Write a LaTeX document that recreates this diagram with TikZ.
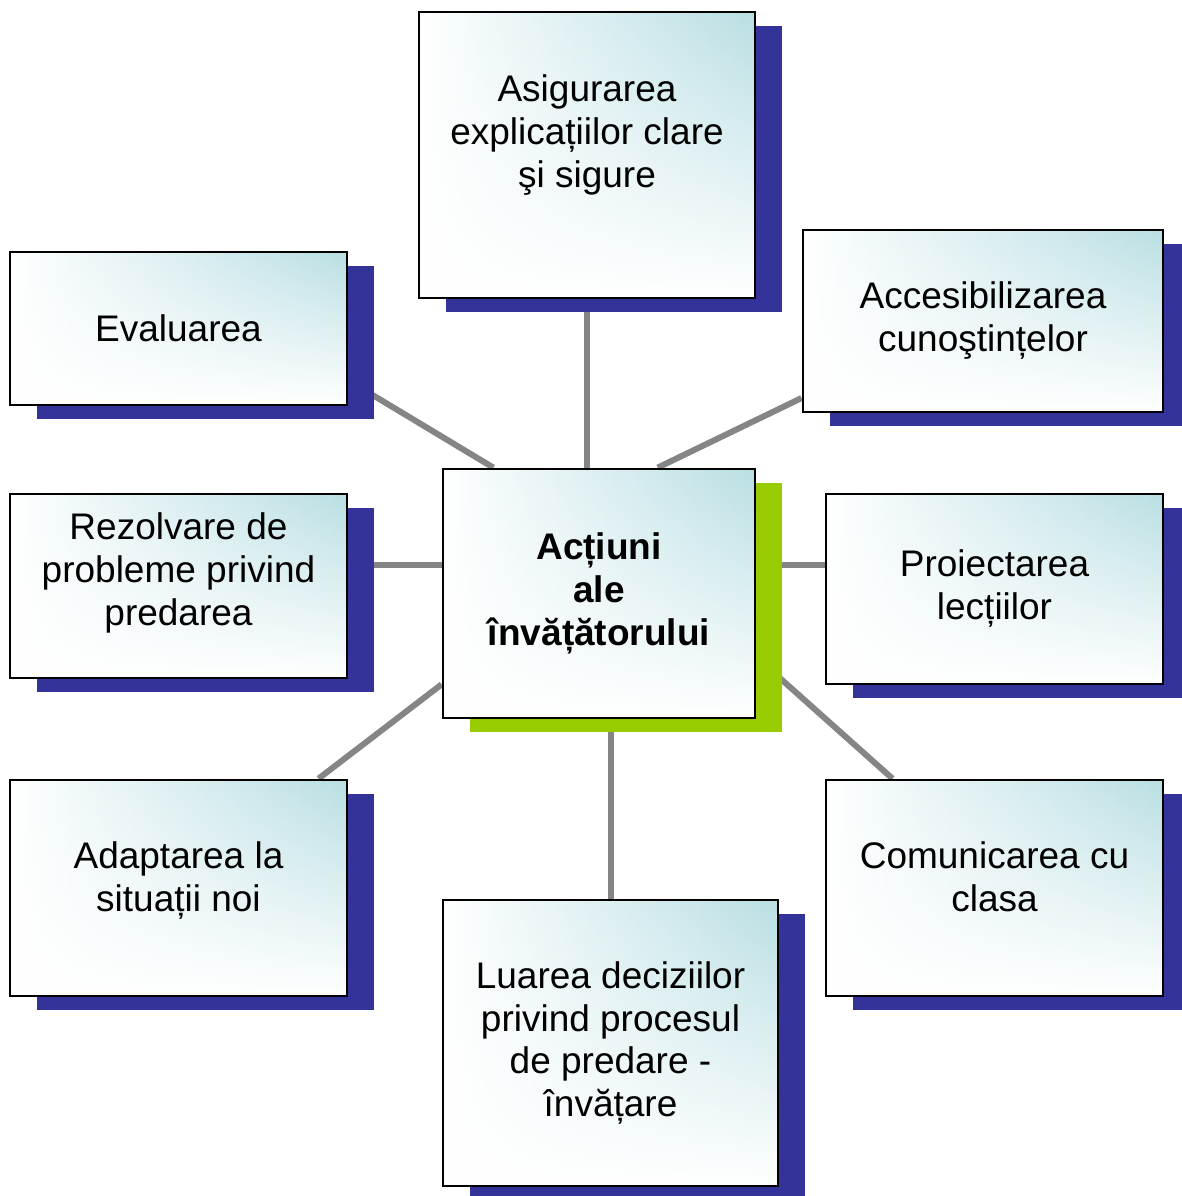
\documentclass[tikz,border=0pt]{standalone}
\usepackage{fontspec}
\setmainfont{Liberation Sans}
\usetikzlibrary{shadows,backgrounds,fadings}
\definecolor{boxteal}{HTML}{B9DFE3}
\definecolor{shadeblue}{HTML}{333399}
\definecolor{shadegreen}{HTML}{99CC00}
\definecolor{linkgray}{HTML}{858585}

\begin{document}
\begin{tikzpicture}[x=0.5pt,y=-0.5pt,
    panel/.style={draw=black, line width=1.4pt, preaction={fill=white},
      preaction={left color=white, right color=boxteal, path fading=south},
      align=center, inner sep=0pt, font=\fontsize{18.5}{21.5}\selectfont},
    card/.style={drop shadow={shadow xshift=13.5pt, shadow yshift=-7pt, fill=shadeblue, opacity=1}, panel},
    hub/.style={drop shadow={shadow xshift=13.5pt, shadow yshift=-7pt, fill=shadegreen, opacity=1}, panel,
      font=\fontsize{18.5}{21.5}\selectfont\bfseries},
    link/.style={draw=linkgray, line width=3pt}]
    \useasboundingbox (0,0) rectangle (1182,1196);
    \node[hub, minimum width=156pt, minimum height=124.5pt] (actiuni) at (599,593.5) {Acțiuni\\ale\\învățătorului};
    \node[card, minimum width=168pt, minimum height=143pt] (explicatii) at (587,155) {Asigurarea\\explicațiilor clare\\şi sigure\\[2.4pt]\mbox{}};
    \node[card, minimum width=168.5pt, minimum height=76.5pt] (evaluare) at (178.5,328.5) {Evaluarea};
    \node[card, minimum width=180pt, minimum height=91pt] (accesibil) at (983,321) {Accesibilizarea\\cunoştințelor};
    \node[card, minimum width=168.5pt, minimum height=92pt] (rezolvare) at (178.5,586) {Rezolvare de\\probleme privind\\predarea\\[-5pt]\mbox{}};
    \node[card, minimum width=168.5pt, minimum height=95pt] (proiectare) at (994.5,589) {Proiectarea\\lecțiilor};
    \node[card, minimum width=168.5pt, minimum height=108pt] (adaptare) at (178.5,888) {Adaptarea la\\situații noi\\[-10pt]\mbox{}};
    \node[card, minimum width=168.5pt, minimum height=108pt] (comunicare) at (994.5,888) {Comunicarea cu\\clasa\\[-10.5pt]\mbox{}};
    \node[card, minimum width=167.5pt, minimum height=143pt] (decizii) at (610.5,1043) {Luarea deciziilor\\privind procesul\\de predare -\\învățare};
    \begin{scope}[on background layer]
      \draw[link] (explicatii.south) -- (explicatii.south |- actiuni.north);
      \draw[link] (decizii.north) -- (decizii.north |- actiuni.south);
      \draw[link] (evaluare.-17) -- (actiuni.130);
      \draw[link] (accesibil.203) -- (actiuni.65);
      \draw[link] (rezolvare.7) -- (rezolvare.7 -| actiuni.west);
      \draw[link] (proiectare.172) -- (proiectare.172 -| actiuni.east);
      \draw[link] (adaptare.38) -- (actiuni.210);
      \draw[link] (comunicare.133) -- (actiuni.-22.5);
    \end{scope}
\end{tikzpicture}
\end{document}
